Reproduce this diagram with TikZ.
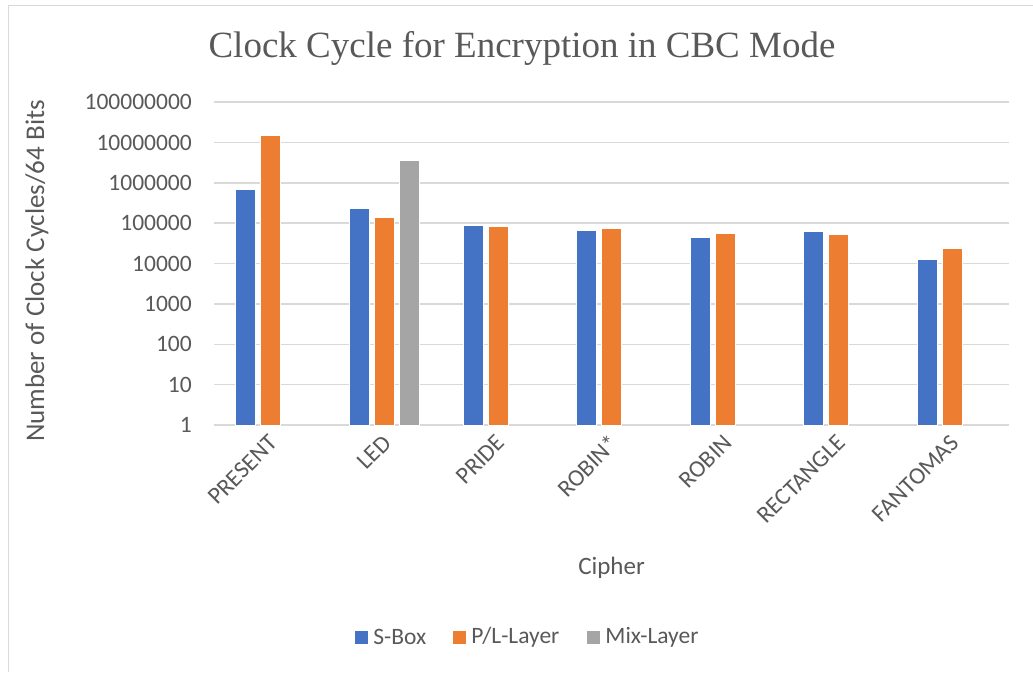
\documentclass[tikz,border=0pt]{standalone}
\usepackage{fontspec}
\setmainfont{Liberation Serif}
\newfontfamily\calfont{Carlito}
\usetikzlibrary{positioning}
\definecolor{sboxblue}{HTML}{4472C4}
\definecolor{plorange}{HTML}{ED7D31}
\definecolor{mixgray}{HTML}{A5A5A5}
\definecolor{gridgray}{HTML}{D9D9D9}
\definecolor{txtgray}{HTML}{595959}
\tikzset{gridline/.style = {draw=gridgray, line width=1.5pt},
         framebox/.style = {draw=gridgray, line width=1.5pt},
         sbar/.style = {fill=sboxblue, draw=white, line width=0.6pt},
         pbar/.style = {fill=plorange, draw=white, line width=0.6pt},
         mbar/.style = {fill=mixgray, draw=white, line width=0.6pt},
         ticklab/.style = {anchor=east, inner sep=0pt, text=txtgray, font=\calfont\fontsize{23.5}{28}\selectfont},
         catlab/.style = {anchor=east, rotate=45, inner sep=0pt, text=txtgray, font=\calfont\fontsize{24}{28}\selectfont},
         axtitle/.style = {inner sep=0pt, text=txtgray, font=\calfont\fontsize{25}{30}\selectfont},
         legkey/.style = {minimum size=13pt, inner sep=0pt},
         legtext/.style = {right=5pt, inner sep=0pt, text=txtgray, font=\calfont\fontsize{23.5}{28}\selectfont},
}

\begin{document}
\begin{tikzpicture}[x=1pt, y=1pt]
  \useasboundingbox (0,0) rectangle (1033,672);
  \draw[framebox] (8.5,0) -- (8.5,666.5) -- (1033,666.5);

  \node[text=txtgray, font=\fontsize{37}{44}\selectfont, inner sep=0pt] (TITLE) at (522,624) {Clock Cycle for Encryption in CBC Mode};

  % log axis: one decade = 40.35
  \foreach \k/\lab in {0/1,1/10,2/100,3/1000,4/10000,5/100000,6/1000000,7/10000000,8/100000000}{
    \draw[gridline] (214,{247+40.35*\k}) -- (1009,{247+40.35*\k});
    \node[ticklab] (TICK\k) at (192,{247+40.35*\k}) {\lab};
  }

  % bars (exponents of ten)
  \foreach \name/\sb/\pl/\mx [count=\i from 0] in {PRESENT/5.84/7.18/0, LED/5.36/5.15/6.55, PRIDE/4.96/4.93/0, ROBIN*/4.83/4.87/0, ROBIN/4.64/4.74/0, RECTANGLE/4.79/4.72/0, FANTOMAS/4.10/4.37/0}{
    \pgfmathsetmacro{\cx}{214+113.57*(\i+0.5)}
    \fill[sbar] ({\cx-35},247) rectangle ({\cx-15},{247+40.35*\sb});
    \fill[pbar] ({\cx-10},247) rectangle ({\cx+10},{247+40.35*\pl});
    \ifdim\mx pt>0pt
      \fill[mbar] ({\cx+15},247) rectangle ({\cx+35},{247+40.35*\mx});
    \fi
    \node[catlab] (CAT\i) at ({\cx+3},233) {\name};
  }

  \node[axtitle, rotate=90, font=\calfont\fontsize{27}{32}\selectfont] (YTITLE) at (37,401) {Number of Clock Cycles/64 Bits};
  \node[axtitle] (XTITLE) at (611.5,104) {Cipher};

  % legend
  \node[legkey, fill=sboxblue] (KEY1) at (361.5,35) {};
  \node[legtext, right=5pt of KEY1] (LEG1) {S-Box};
  \node[legkey, fill=plorange] (KEY2) at (459.5,35) {};
  \node[legtext, right=5pt of KEY2] (LEG2) {P/L-Layer};
  \node[legkey, fill=mixgray] (KEY3) at (593.5,35) {};
  \node[legtext, right=5pt of KEY3] (LEG3) {Mix-Layer};
\end{tikzpicture}
\end{document}
